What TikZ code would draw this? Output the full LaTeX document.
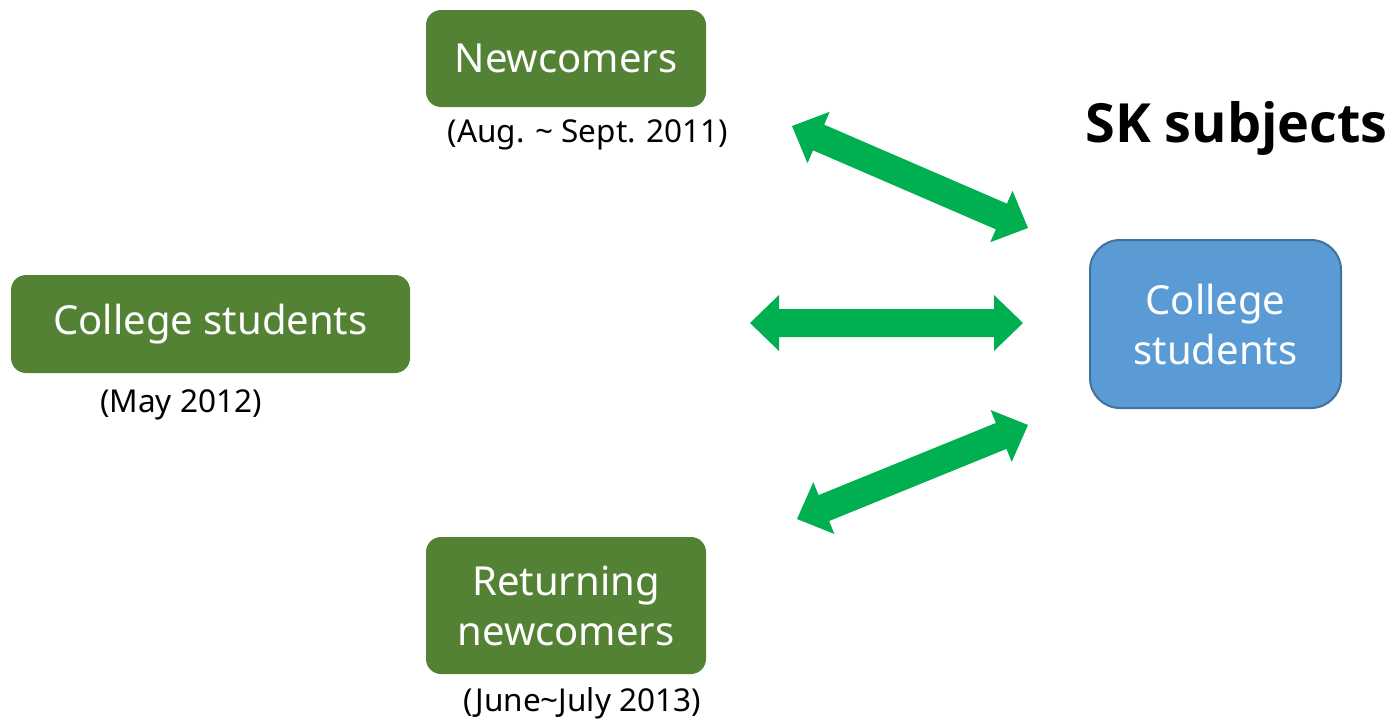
\documentclass[tikz,border=0pt]{standalone}
\usepackage{fontspec}
\setmainfont{Noto Sans}
\newfontfamily\titlefont{Open Sans}
\usetikzlibrary{calc}
\definecolor{boxgreen}{HTML}{548235}
\definecolor{boxblue}{HTML}{5B9BD5}
\definecolor{blueline}{HTML}{41719C}
\definecolor{arrowgreen}{HTML}{00B050}
\newcommand\dblblock[2]{%
  \fill[arrowgreen] (#1)
    -- ($($(#1)!29pt!(#2)$)!28pt!90:(#2)$)
    -- ($($(#1)!29pt!(#2)$)!14pt!90:(#2)$)
    -- ($($(#2)!29pt!(#1)$)!14pt!-90:(#1)$)
    -- ($($(#2)!29pt!(#1)$)!28pt!-90:(#1)$)
    -- (#2)
    -- ($($(#2)!29pt!(#1)$)!28pt!90:(#1)$)
    -- ($($(#2)!29pt!(#1)$)!14pt!90:(#1)$)
    -- ($($(#1)!29pt!(#2)$)!14pt!-90:(#2)$)
    -- ($($(#1)!29pt!(#2)$)!28pt!-90:(#2)$)
    -- cycle;}
\begin{document}
\begin{tikzpicture}[x=1pt,y=1pt,
  gbox/.style={fill=boxgreen,rounded corners=15pt,text=white,align=center,
    font=\fontsize{40}{50}\selectfont,inner sep=0pt},
  bbox/.style={fill=boxblue,draw=blueline,line width=2pt,rounded corners=30pt,
    text=white,align=center,font=\fontsize{40}{50}\selectfont,inner sep=0pt},
  lbl/.style={font=\fontsize{31.5}{38}\selectfont,inner sep=0pt},
  title/.style={font=\titlefont\bfseries\fontsize{54}{64}\selectfont,inner sep=0pt}]
\useasboundingbox (0,0) rectangle (1393,-723);
\node[gbox,minimum width=280pt,minimum height=97pt] (newc) at (566,-58.5) {Newcomers};
\node[lbl] (newcl) at (588,-135) {(Aug. \textasciitilde{} Sept. 2011)};
\node[gbox,minimum width=399pt,minimum height=98pt] (coll) at (210.5,-324) {College students};
\node[lbl] (colll) at (181,-405) {(May 2012)};
\node[gbox,minimum width=280pt,minimum height=137pt] (ret) at (566,-605.5) {Returning\\newcomers};
\node[lbl] (retl) at (582,-703) {(June\textasciitilde July 2013)};
\node[bbox,minimum width=251pt,minimum height=168pt] (sk) at (1215.5,-324) {College\\students};
\node[title,anchor=east] (skt) at (1388,-128) {SK subjects};
\coordinate (a1) at (792,-126);
\coordinate (b1) at (1028,-228);
\coordinate (a2) at (750,-323);
\coordinate (b2) at (1023,-323);
\coordinate (a3) at (797,-519);
\coordinate (b3) at (1028,-425);
\dblblock{a1}{b1}
\dblblock{a2}{b2}
\dblblock{a3}{b3}
\end{tikzpicture}
\end{document}
